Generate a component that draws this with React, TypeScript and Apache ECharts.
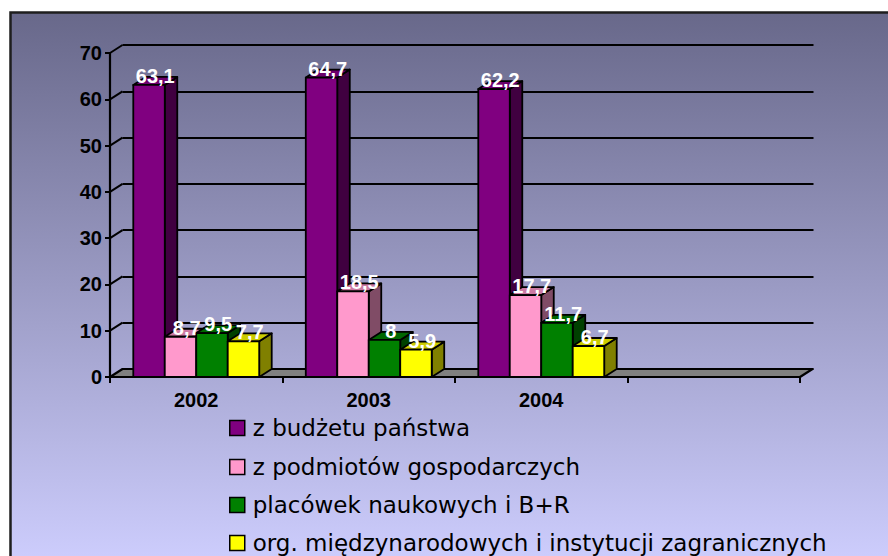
import React, { useEffect, useRef } from "react";
import * as echarts from "echarts";

const categories = ["2002", "2003", "2004", ""];
const seriesNames = [
  "z budżetu państwa",
  "z podmiotów gospodarczych",
  "placówek naukowych i B+R",
  "org. międzynarodowych i instytucji zagranicznych",
];
const budzet = [63.1, 64.7, 62.2];
const podmioty = [8.7, 18.5, 17.7];
const placowki = [9.5, 8, 11.7];
const organizacje = [7.7, 5.9, 6.7];
const yTicks = [0, 10, 20, 30, 40, 50, 60, 70];

const faceColors = [
  { front: "#800080", top: "#6c006c", side: "#400040" },
  { front: "#ff99cc", top: "#cc7aa3", side: "#804c66" },
  { front: "#008000", top: "#006600", side: "#004000" },
  { front: "#ffff00", top: "#cccc00", side: "#808000" },
];

const DX = 12.5;
const DY = 8;
const fmt = (v: number) => String(v).replace(".", ",");

const makeBarRender = (si: number) => (params: any, api: any) => {
  const ci = api.value(0);
  const v = api.value(1);
  const top = api.coord([ci, v]);
  const base = api.coord([ci, 0]);
  const band = api.size([1, 0])[0];
  const bw = (band * 0.73) / 4;
  const x0 = top[0] - 2 * bw + si * bw;
  const x1 = x0 + bw;
  const yT = top[1];
  const yB = base[1];
  const c = faceColors[si];
  const stroke = { stroke: "#000", lineWidth: 1.8, lineJoin: "round" };
  return {
    type: "group",
    children: [
      {
        type: "polygon",
        z2: si * 3,
        shape: { points: [[x1, yT], [x1 + DX, yT - DY], [x1 + DX, yB - DY], [x1, yB]] },
        style: { fill: c.side, ...stroke },
      },
      {
        type: "polygon",
        z2: si * 3 + 1,
        shape: { points: [[x0, yT], [x0 + DX, yT - DY], [x1 + DX, yT - DY], [x1, yT]] },
        style: { fill: c.top, ...stroke },
      },
      {
        type: "rect",
        z2: si * 3 + 2,
        shape: { x: x0, y: yT, width: bw, height: yB - yT },
        style: { fill: c.front, ...stroke },
      },
      {
        type: "text",
        z2: 100,
        style: {
          text: fmt(v),
          x: (x0 + x1) / 2 + DX / 2,
          y: yT - DY - 1,
          fill: "#ffffff",
          font: 'bold 20px "Liberation Sans", Arial, sans-serif',
          align: "center",
          verticalAlign: "middle",
        },
      },
    ],
  };
};

const wallRender = (params: any, api: any) => {
  const v = api.value(1);
  const cs = params.coordSys;
  const y = api.coord([0, v])[1];
  const x = cs.x;
  if (v === 0) {
    return {
      type: "polygon",
      shape: {
        points: [[x, y], [x + cs.width, y], [x + cs.width + DX, y - DY], [x + DX, y - DY]],
      },
      style: { fill: "#808080", stroke: "#000", lineWidth: 2.2, lineJoin: "round" },
    };
  }
  return {
    type: "line",
    shape: { x1: x, y1: y, x2: x + DX, y2: y - DY },
    style: { stroke: "#000", lineWidth: 2 },
  };
};

const legendTops = [416, 455, 493, 531];

export default function App() {
  const ref = useRef<HTMLDivElement>(null);
  useEffect(() => {
    if (!ref.current) return;
    const chart = echarts.init(ref.current, undefined, { renderer: "svg" });
    const dataSets = [budzet, podmioty, placowki, organizacje];
    const option: any = {
      animation: false,
      backgroundColor: "#ffffff",
      graphic: [
        {
          type: "rect",
          z: -10,
          silent: true,
          shape: { x: 10.5, y: 12.5, width: 900, height: 600 },
          style: {
            fill: new echarts.graphic.LinearGradient(
              0, 12, 0, 556,
              [
                { offset: 0, color: "#68688a" },
                { offset: 1, color: "#ccccfc" },
              ],
              true
            ),
            stroke: "#1e1e1e",
            lineWidth: 2.5,
          },
        },
      ],
      grid: [
        { left: 110, top: 53, width: 690, height: 324 },
        { left: 122.5, top: 45, width: 691, height: 324 },
      ],
      xAxis: [
        {
          type: "category",
          gridIndex: 0,
          data: categories,
          boundaryGap: true,
          axisLine: { show: true, lineStyle: { color: "#000", width: 2.2 } },
          axisTick: { show: true, interval: 0, length: 6, lineStyle: { color: "#000", width: 2 } },
          axisLabel: {
            interval: 0,
            margin: 13,
            color: "#000",
            fontFamily: '"Liberation Sans", Arial, sans-serif',
            fontWeight: "bold",
            fontSize: 20,
          },
          splitLine: { show: false },
        },
        { type: "value", gridIndex: 1, show: false, min: 0, max: 1 },
      ],
      yAxis: [
        {
          type: "value",
          gridIndex: 0,
          min: 0,
          max: 70,
          interval: 10,
          axisLine: { show: true, lineStyle: { color: "#000", width: 2.2 } },
          axisTick: { show: true, length: 5, lineStyle: { color: "#000", width: 2 } },
          axisLabel: {
            margin: 8,
            color: "#000",
            fontFamily: '"Liberation Sans", Arial, sans-serif',
            fontWeight: "bold",
            fontSize: 20,
          },
          splitLine: { show: false },
        },
        {
          type: "value",
          gridIndex: 1,
          min: 0,
          max: 70,
          interval: 10,
          axisLine: { show: false },
          axisTick: { show: false },
          axisLabel: { show: false },
          splitLine: { show: true, lineStyle: { color: "#000", width: 2 } },
        },
      ],
      legend: seriesNames.map((n, i) => ({
        data: [{ name: n, icon: "rect" }],
        orient: "vertical",
        left: 229,
        top: legendTops[i],
        padding: 0,
        itemWidth: 15,
        itemHeight: 15,
        selectedMode: false,
        itemStyle: { borderColor: "#000", borderWidth: 1.5 },
        textStyle: {
          color: "#000",
          fontFamily: '"DejaVu Sans", sans-serif',
          fontSize: 23,
          lineHeight: 24,
          padding: [0, 0, 0, 3],
        },
      })),
      series: [
        {
          type: "custom",
          name: "walls",
          xAxisIndex: 0,
          yAxisIndex: 0,
          z: 1,
          silent: true,
          renderItem: wallRender,
          encode: { x: 0, y: 1 },
          data: yTicks.map((v) => [0, v]),
        },
        ...dataSets.map((ds, si) => ({
          type: "custom",
          name: seriesNames[si],
          xAxisIndex: 0,
          yAxisIndex: 0,
          z: 2,
          itemStyle: { color: faceColors[si].front, borderColor: "#000", borderWidth: 1.5 },
          renderItem: makeBarRender(si),
          encode: { x: 0, y: 1 },
          data: ds.map((v, i) => [i, v]),
        })),
      ],
    };
    chart.setOption(option);
    return () => chart.dispose();
  }, []);
  return (
    <div
      ref={ref}
      style={{ position: "absolute", left: 0, top: 0, width: 888, height: 556 }}
    />
  );
}
